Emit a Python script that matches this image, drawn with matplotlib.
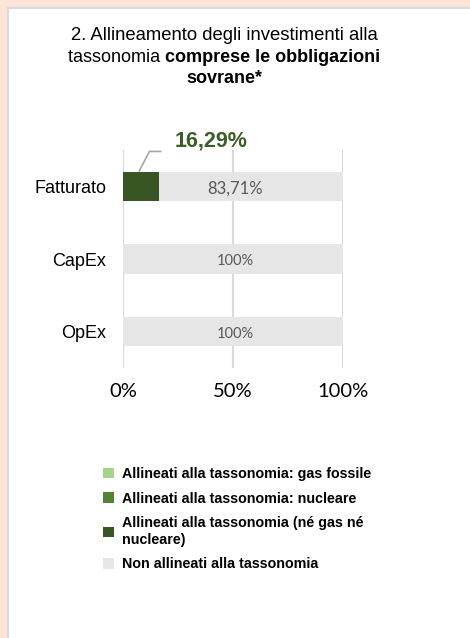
import matplotlib.pyplot as plt
from matplotlib.patches import Rectangle, Patch

# data
categories = ["Fatturato", "CapEx", "OpEx"]
gas_fossile = [0.0, 0.0, 0.0]
nucleare = [0.0, 0.0, 0.0]
ne_gas_ne_nucleare = [16.29, 0.0, 0.0]
non_allineati = [83.71, 100.0, 100.0]
aligned_labels = ["16,29%", "", ""]
non_aligned_labels = ["83,71%", "100%", "100%"]
xticks = [0, 50, 100]
xtick_labels = ["0%", "50%", "100%"]
legend_labels = ["Allineati alla tassonomia: gas fossile",
                 "Allineati alla tassonomia: nucleare",
                 "Allineati alla tassonomia (né gas né\nnucleare)",
                 "Non allineati alla tassonomia"]

c_gas = "#A9D18E"
c_nuc = "#548235"
c_ne = "#375623"
c_non = "#E7E6E6"
W, H = 470, 638

plt.rcParams['font.family'] = ['Liberation Sans', 'DejaVu Sans']
fig = plt.figure(figsize=(W / 100, H / 100), dpi=100)
fig.patch.set_facecolor("#FCE4D6")
fig.patches.append(Rectangle((8 / W, -0.1), 1.2, 1 - 8 / H + 0.1, transform=fig.transFigure,
                             facecolor="white", edgecolor="#DADADA", linewidth=1.5, zorder=-5))

# title with mixed weights
r = fig.canvas.get_renderer()
def line(parts, ypx, size=13.3):
    texts = [fig.text(0, 1 - ypx / H, s, fontsize=size, fontweight=w, va="baseline") for s, w in parts]
    widths = [t.get_window_extent(r).width for t in texts]
    x = 224 - sum(widths) / 2
    for t, w in zip(texts, widths):
        t.set_x(x / W)
        x += w

line([("2. Allineamento degli investimenti alla", "normal")], 40)
line([("tassonomia ", "normal"), ("comprese le obbligazioni", "bold")], 62, 13.0)
line([("sovrane*", "bold")], 83, 13.0)

ax = fig.add_axes([123 / W, 1 - 368 / H, 220 / W, 218 / H])
ax.set_facecolor("none")
y = list(range(len(categories)))
h = 0.4
left = [0, 0, 0]
for vals, col in [(ne_gas_ne_nucleare, c_ne), (nucleare, c_nuc), (gas_fossile, c_gas), (non_allineati, c_non)]:
    ax.barh(y, vals, left=left, height=h, color=col, zorder=3)
    left = [a + b for a, b in zip(left, vals)]

for i, lab in enumerate(non_aligned_labels):
    fs = 12 if i == 0 else 10.5
    ax.text(51, y[i] + 0.03, lab, ha="center", va="center", fontsize=fs,
            color="#595959", family="Lato", zorder=4)

# callout for aligned share
ax.plot([7.2, 12, 17.5], [0 - h / 2, -0.48, -0.48], color="#A6A6A6", lw=1.2,
        zorder=4, clip_on=False, solid_capstyle="butt")
ax.text(40, -0.55, aligned_labels[0], ha="center", va="baseline", fontsize=15.5,
        fontweight="bold", color="#3A5F24", zorder=5)

ax.set_xlim(0, 100)
ax.set_ylim(2.5, -0.5)
ax.set_xticks(xticks)
ax.set_xticklabels(xtick_labels, family="Lato", fontsize=14.5)
ax.set_yticks(y)
ax.set_yticklabels(categories, fontsize=13)
ax.tick_params(length=0)
ax.tick_params(axis="x", pad=11)
ax.tick_params(axis="y", pad=12)
ax.grid(axis="x", color="#D9D9D9", lw=1.5, zorder=0)
for s in ax.spines.values():
    s.set_visible(False)

handles = [Patch(facecolor=c) for c in [c_gas, c_nuc, c_ne, c_non]]
fig.legend(handles, legend_labels, loc="upper left", bbox_to_anchor=(90 / W, 1 - 454 / H),
           frameon=False, prop={"weight": "bold", "size": 10.3}, handlelength=0.75,
           handleheight=0.75, handletextpad=0.6, labelspacing=0.75)

fig.savefig("out.png", dpi=100)
